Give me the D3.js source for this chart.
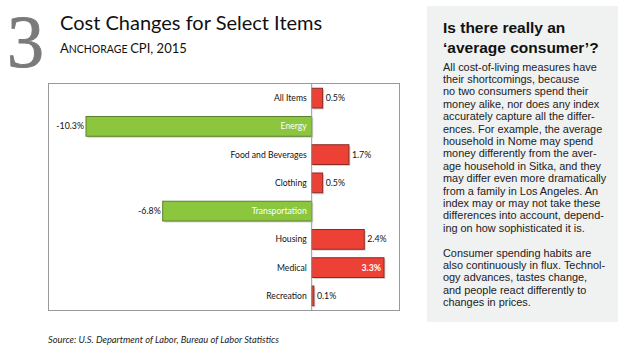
<!DOCTYPE html>
<html><head><meta charset="utf-8">
<script src="https://cdn.jsdelivr.net/npm/d3@7"></script>
<style>body{margin:0;background:#fff}svg{display:block}</style>
</head><body>
<script>
const categories = ["All Items","Energy","Food and Beverages","Clothing","Transportation","Housing","Medical","Recreation"];
const values = [0.5,-10.3,1.7,0.5,-6.8,2.4,3.3,0.1];
const valueLabels = ["0.5%","-10.3%","1.7%","0.5%","-6.8%","2.4%","3.3%","0.1%"];
const headingLines = ["Is there really an","\u2018average consumer\u2019?"];
const bodyLines = ["All cost-of-living measures have","their shortcomings, because","no two consumers spend their","money alike, nor does any index","accurately capture all the differ-","ences. For example, the average","household in Nome may spend","money differently from the aver-","age household in Sitka, and they","may differ even more dramatically","from a family in Los Angeles. An","index may or may not take these","differences into account, depend-","ing on how sophisticated it is.","","Consumer spending habits are","also continuously in flux. Technol-","ogy advances, tastes change,","and people react differently to","changes in prices."];

const W=640,H=351;
const svg=d3.select("body").append("svg").attr("width",W).attr("height",H);
const lab="Lato, 'Open Sans', sans-serif";

// big number
svg.append("text").attr("x",7).attr("y",67).attr("font-family","'Liberation Serif', serif")
  .attr("font-size",74).attr("fill","#7a7a7a").attr("stroke","#7a7a7a").attr("stroke-width",0.9).text("3");
svg.append("text").attr("x",60).attr("y",30).attr("font-family",lab).attr("font-size",20).attr("fill","#111").text("Cost Changes for Select Items");
const sub=svg.append("text").attr("x",60).attr("y",53).attr("font-family",lab).attr("fill","#111");
sub.append("tspan").attr("font-size",13).text("A");
sub.append("tspan").attr("font-size",10.5).text("NCHORAGE ");
sub.append("tspan").attr("font-size",13).text("CPI, 2015");

// chart frame
svg.append("rect").attr("x",48.5).attr("y",83.5).attr("width",351).attr("height",227)
  .attr("fill","#fff").attr("stroke","#999").attr("stroke-width",1);

const x=d3.scaleLinear().domain([-10.3,3.3]).range([86,384]);
const y=d3.scaleBand().domain(categories).range([84,310]).paddingInner(0.3).paddingOuter(0.15);

const data=categories.map((c,i)=>({c,v:values[i],l:valueLabels[i]}));
const g=svg.append("g");
// shadows
g.selectAll("rect.sh").data(data).join("rect")
  .attr("x",d=>Math.min(x(0),x(d.v))+1.5).attr("y",d=>y(d.c)+1.5)
  .attr("width",d=>Math.abs(x(d.v)-x(0))).attr("height",y.bandwidth())
  .attr("fill","#bbb").attr("opacity",0.6);
g.selectAll("rect.bar").data(data).join("rect")
  .attr("x",d=>Math.min(x(0),x(d.v))).attr("y",d=>y(d.c))
  .attr("width",d=>Math.abs(x(d.v)-x(0))).attr("height",y.bandwidth())
  .attr("fill",d=>d.v<0?"#8cc63f":"#ee4136")
  .attr("stroke",d=>d.v<0?"#5b7f2a":"#8a2a24").attr("stroke-width",1);
// zero line
svg.append("line").attr("x1",x(0)).attr("x2",x(0)).attr("y1",84).attr("y2",310).attr("stroke","#999");

// category labels
g.selectAll("text.cat").data(data).join("text")
  .attr("x",x(0)-5).attr("y",d=>y(d.c)+y.bandwidth()/2).attr("dy","0.35em")
  .attr("text-anchor","end").attr("font-family",lab).attr("font-size",8.6)
  .attr("fill",d=>d.v<0?"#fff":"#111").text(d=>d.c);
// value labels
g.selectAll("text.val").data(data).join("text")
  .attr("x",d=>{ if(d.v<0) return x(d.v)-2; if(d.c==="Medical") return x(d.v)-3; return x(d.v)+3;})
  .attr("y",d=>y(d.c)+y.bandwidth()/2).attr("dy","0.35em")
  .attr("text-anchor",d=>(d.v<0||d.c==="Medical")?"end":"start")
  .attr("font-family",lab).attr("font-size",8.8)
  .attr("font-weight",d=>d.c==="Medical"?"bold":"normal")
  .attr("fill",d=>d.c==="Medical"?"#fff":"#111").text(d=>d.l);

svg.append("text").attr("x",48).attr("y",343).attr("font-family",lab).attr("font-style","italic")
  .attr("font-size",9.3).attr("fill","#222").text("Source: U.S. Department of Labor, Bureau of Labor Statistics");

// side panel
svg.append("rect").attr("x",427).attr("y",6).attr("width",191).attr("height",316).attr("fill","#f0f1f1");
headingLines.forEach((t,i)=>svg.append("text").attr("x",443).attr("y",33+i*20)
  .attr("font-family","'Liberation Sans', Arial, sans-serif").attr("font-weight","bold")
  .attr("font-size",15.5).attr("fill","#111").text(t));
bodyLines.forEach((t,i)=>svg.append("text").attr("x",443).attr("y",70.5+i*12.4)
  .attr("font-family","'Liberation Sans', Arial, sans-serif")
  .attr("font-size",10.9).attr("fill","#222").text(t));
</script>
</body></html>
